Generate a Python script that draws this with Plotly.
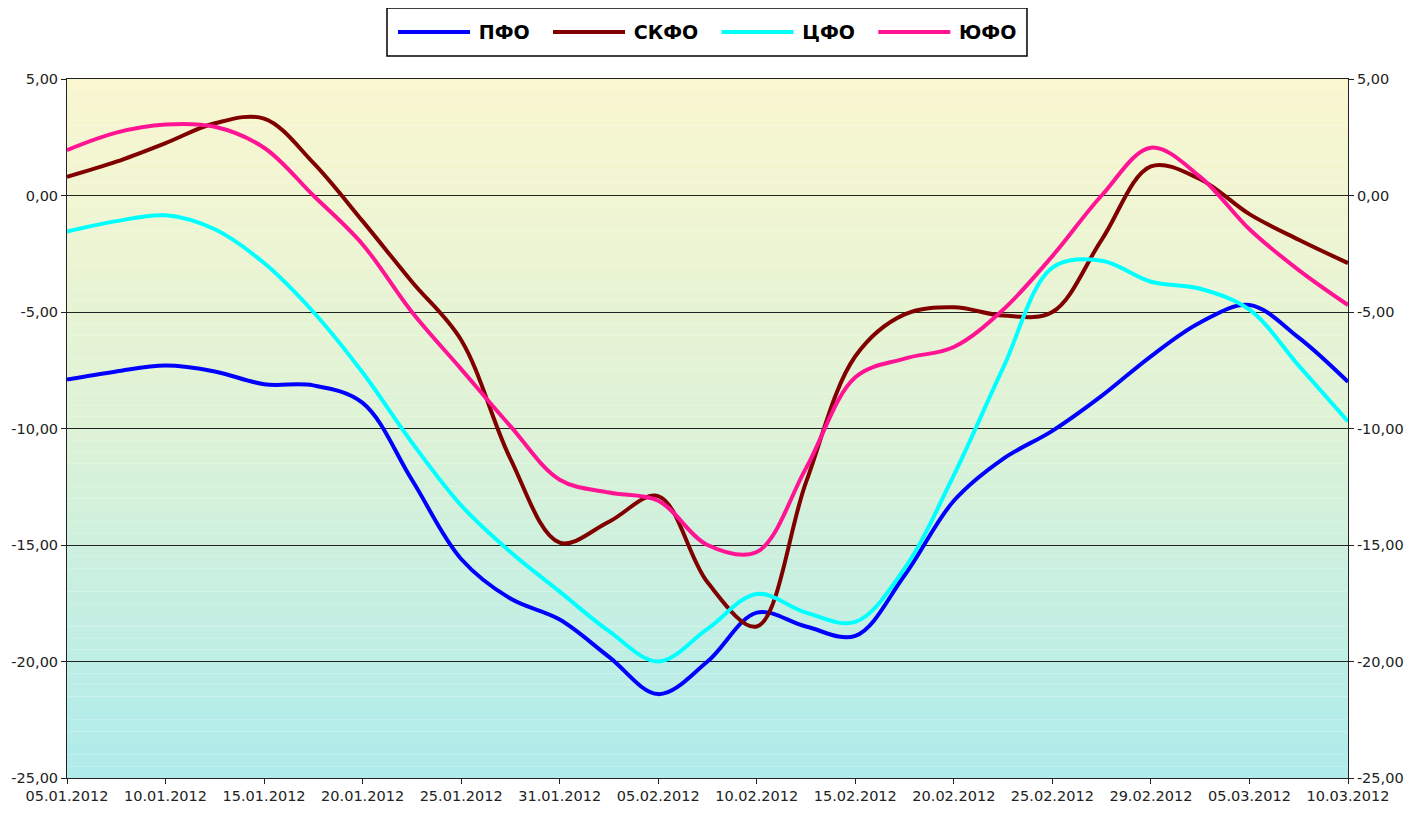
import numpy as np
import plotly.graph_objects as go

# Category tick labels (one every step on the x axis)
dates = ["05.01.2012", "10.01.2012", "15.01.2012", "20.01.2012", "25.01.2012",
         "31.01.2012", "05.02.2012", "10.02.2012", "15.02.2012", "20.02.2012",
         "25.02.2012", "29.02.2012", "05.03.2012", "10.03.2012"]

# Values sampled every half category step (27 points)
pfo = [-7.9, -7.55, -7.3, -7.55, -8.1, -8.15, -8.9, -12.2, -15.6, -17.3, -18.2, -19.8,
       -21.4, -20.0, -17.9, -18.5, -18.9, -16.3, -13.1, -11.3, -10.1, -8.6, -6.9, -5.45,
       -4.7, -6.1, -8.0]
skfo = [0.8, 1.45, 2.25, 3.1, 3.3, 1.4, -1.1, -3.7, -6.2, -11.3, -14.9, -14.0,
        -12.9, -16.6, -18.5, -12.3, -6.9, -5.1, -4.8, -5.15, -5.0, -1.9, 1.25, 0.7,
        -0.8, -1.9, -2.9]
cfo = [-1.55, -1.1, -0.85, -1.45, -2.9, -5.0, -7.6, -10.6, -13.3, -15.3, -17.0, -18.7,
       -20.0, -18.6, -17.1, -17.9, -18.3, -16.0, -12.0, -7.4, -3.1, -2.8, -3.7, -4.0,
       -4.9, -7.3, -9.7]
yufo = [1.95, 2.7, 3.05, 2.95, 2.05, 0.0, -2.1, -5.0, -7.45, -9.9, -12.2, -12.75,
        -13.1, -15.0, -15.3, -11.7, -7.8, -7.0, -6.5, -4.9, -2.6, 0.0, 2.05, 0.8,
        -1.45, -3.2, -4.7]

series = [("ПФО", pfo, "#0000FF"), ("СКФО", skfo, "#800000"),
          ("ЦФО", cfo, "#00FFFF"), ("ЮФО", yufo, "#FF1493")]

yticks = [5, 0, -5, -10, -15, -20, -25]
yticktext = [f"{v:.2f}".replace(".", ",") for v in yticks]

x = np.arange(len(pfo)) * 0.5

fig = go.Figure()
for k, (name, vals, col) in enumerate(series):
    label = "\u2009" + name + ("\u2002\u2009" if k < len(series) - 1 else "")
    fig.add_trace(go.Scatter(x=x, y=vals, name=label, mode="lines",
                             line=dict(color=col, width=4, shape="spline", smoothing=1.0)))
# invisible trace to show right axis
fig.add_trace(go.Scatter(x=[0], y=[None], yaxis="y2", showlegend=False,
                         hoverinfo="skip", mode="lines"))

# vertical gradient background (pale yellow -> pale cyan)
top = np.array([250, 247, 208])
mid = np.array([222, 243, 215])
bot = np.array([175, 236, 236])
n = 60
for i in range(n):
    t = (i + 0.5) / n
    if t < 0.5:
        c = top + (mid - top) * (t / 0.5)
    else:
        c = mid + (bot - mid) * ((t - 0.5) / 0.5)
    y0 = 5 - 30 * i / n
    y1 = 5 - 30 * (i + 1) / n
    fig.add_shape(type="rect", xref="paper", yref="y", x0=0, x1=1, y0=y1, y1=y0,
                  fillcolor="rgb(%d,%d,%d)" % tuple(c.astype(int)), line_width=0,
                  layer="below")

# legend frame
fig.add_shape(type="rect", xref="paper", yref="paper", x0=0.2498, x1=0.7494,
              y0=1.0329, y1=1.1016, line=dict(color="black", width=1.5),
              fillcolor="white", layer="below")

tickfont = dict(family="DejaVu Sans", size=14.5, color="#222")
fig.update_layout(
    width=1415, height=806,
    margin=dict(l=59, r=75, t=71, b=36, autoexpand=False),
    paper_bgcolor="white", plot_bgcolor="white",
    showlegend=True,
    legend=dict(orientation="h", x=0.5, xanchor="center", y=1.0672, yanchor="middle",
                borderwidth=0, bgcolor="rgba(0,0,0,0)",
                font=dict(family="DejaVu Sans", size=19, color="black", weight="bold"),
                itemwidth=72),
    xaxis=dict(range=[0, 13], tickvals=list(range(14)), ticktext=dates,
               showline=True, linecolor="#222", linewidth=1, mirror=True,
               ticks="outside", ticklen=5, tickcolor="#222", showgrid=False,
               zeroline=False, tickfont=tickfont),
    yaxis=dict(range=[-25, 5], tickvals=yticks, ticktext=yticktext,
               showline=True, linecolor="#222", linewidth=1,
               ticks="outside", ticklen=5, tickcolor="#222",
               showgrid=True, gridcolor="#222", gridwidth=1, zeroline=False,
               tickfont=tickfont),
    yaxis2=dict(range=[-25, 5], tickvals=yticks, ticktext=yticktext,
                overlaying="y", side="right",
                showline=True, linecolor="#222", linewidth=1,
                ticks="outside", ticklen=5, tickcolor="#222",
                showgrid=False, zeroline=False, tickfont=tickfont),
)

fig.write_html("out.html")
